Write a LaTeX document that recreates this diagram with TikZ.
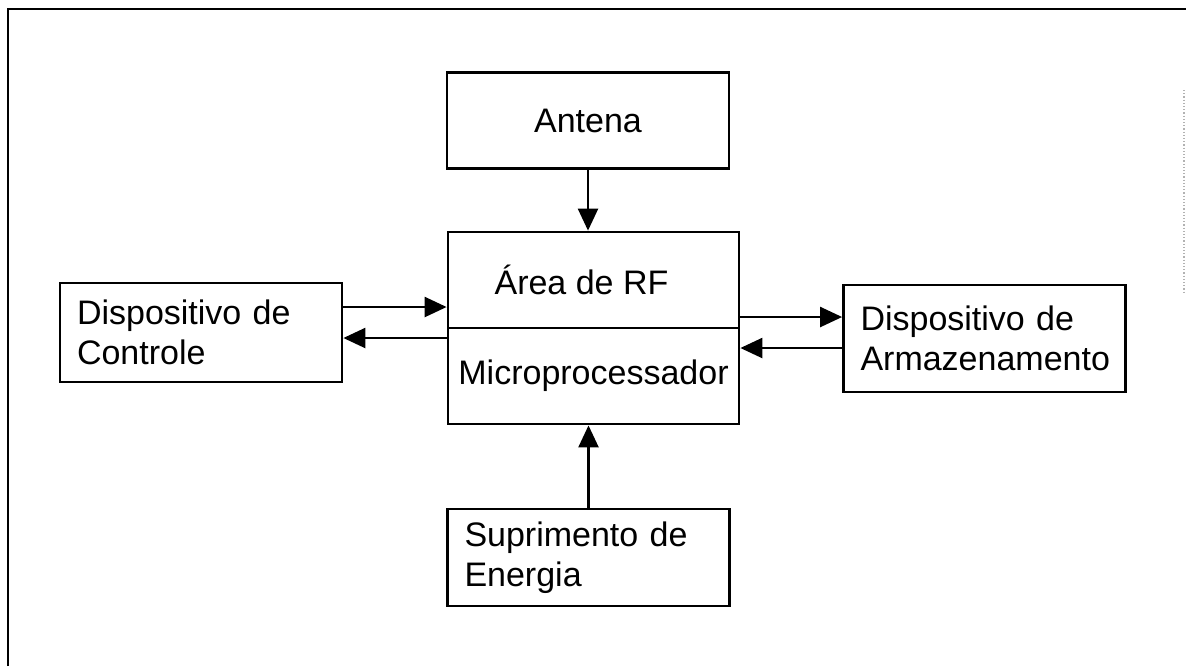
\documentclass[tikz,border=0pt]{standalone}
\usepackage{fontspec}
\setmainfont{Liberation Sans}
\usetikzlibrary{arrows.meta,positioning}

\begin{document}
\begin{tikzpicture}[x=0.5pt,y=-0.5pt,node distance=0pt,
  every node/.style={font=\fontsize{17}{20}\selectfont},
  bloco/.style={draw,line width=1.4pt,inner sep=0pt,minimum width=141pt,minimum height=48pt,align=center},
  lateral/.style={bloco,align=left,text width=124pt,inner xsep=8pt},
  seta/.style={line width=1.2pt,-{Triangle[length=11pt,width=10pt]}}]
  \useasboundingbox (0,0) rectangle (1186,666);

  % moldura
  \draw[line width=1.4pt] (8,666) -- (8,9) -- (1186,9);
  \draw[gray!60,densely dotted,line width=0.6pt] (1184,90) -- (1184,293);

  \node[bloco,minimum width=145.5pt]   (rf)    at (593.5,280)   {\'Area de RF\hspace*{12pt}};
  \node[bloco,minimum width=145.5pt,below=-1.4pt of rf] (micro) {Microprocessador};
  \node[bloco]    (antena)  at (588,120.5)  {Antena};
  \node[lateral,minimum height=49.5pt] (ctrl) at (201,332.5)  {Dispositivo de\\Controle};
  \node[lateral,minimum height=53.5pt] (arm)  at (984.5,338.5) {Dispositivo de\\Armazenamento};
  \node[lateral,minimum height=48.5pt] (sup)  at (588.5,557.5) {Suprimento de\\Energia};

  \path[seta]
     (antena.south)	edge 	(antena.south |- rf.north)
     (sup.north)	edge	(sup.north |- micro.south)
     ([yshift=12.75pt]ctrl.east) edge ([yshift=12.75pt]ctrl.east -| rf.west)
     ([yshift=-2.75pt]ctrl.east -| micro.west) edge ([yshift=-2.75pt]ctrl.east)
     ([yshift=10.75pt]arm.west -| rf.east) edge ([yshift=10.75pt]arm.west)
     ([yshift=-4.75pt]arm.west) edge ([yshift=-4.75pt]arm.west -| micro.east)
  ;
\end{tikzpicture}
\end{document}
